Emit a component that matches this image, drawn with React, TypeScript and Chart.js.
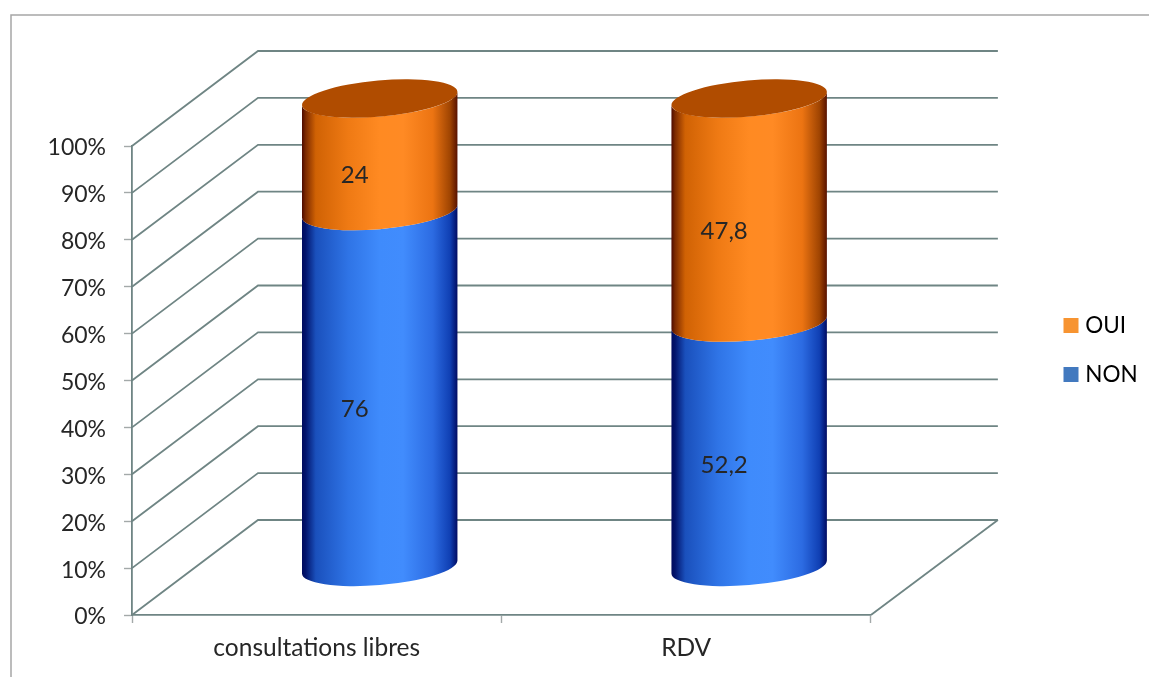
import React, { useEffect, useRef } from "react";
import { Chart, registerables } from "chart.js";

Chart.register(...registerables);

const categories = ["consultations libres", "RDV"];
const nonValues = [76, 52.2];
const ouiValues = [24, 47.8];
const valueLabels = [["76", "52,2"], ["24", "47,8"]];
const legendColors = { NON: "#4279bf", OUI: "#f79431" };

const TEXT = "#262626";
const FONT = "Lato";
const GRID = "#6f8584";
const TICK = "#a3a9a9";
const DX = 126;
const DY = 95;
const TILT = (-5 * Math.PI) / 180;
const RY = 18;

const blueStops: [number, string][] = [
  [0, "#000a5c"], [0.025, "#02146c"], [0.09, "#1a50bc"], [0.3, "#2f74e6"], [0.5, "#3f8bfc"],
  [0.65, "#418cfd"], [0.84, "#2c6be2"], [0.95, "#1040b4"], [1, "#000a60"],
];
const orangeStops: [number, string][] = [
  [0, "#4a0800"], [0.025, "#7c2a00"], [0.09, "#d06204"], [0.3, "#ef7a14"], [0.5, "#ff8a22"],
  [0.65, "#ff8a24"], [0.84, "#ec7412"], [0.95, "#a04502"], [1, "#561000"],
];

const depthPlugin = {
  id: "depth",
  beforeDatasetsDraw(chart: any) {
    const { ctx, chartArea: a, scales } = chart;
    ctx.save();
    ctx.strokeStyle = "#a6a6a6";
    ctx.lineWidth = 1.5;
    ctx.beginPath();
    ctx.moveTo(11, chart.height);
    ctx.lineTo(11, 15);
    ctx.lineTo(chart.width, 15);
    ctx.stroke();
    ctx.strokeStyle = GRID;
    ctx.lineWidth = 1.8;
    for (const t of scales.y.ticks) {
      const y = scales.y.getPixelForValue(t.value);
      ctx.beginPath();
      ctx.moveTo(a.left, y);
      ctx.lineTo(a.left + DX, y - DY);
      ctx.lineTo(a.right + DX + 1, y - DY);
      ctx.stroke();
    }
    ctx.beginPath();
    ctx.moveTo(a.right, a.bottom);
    ctx.lineTo(a.right + DX + 1, a.bottom - DY);
    ctx.stroke();
    ctx.restore();
  },
  beforeDatasetDraw() {
    return false;
  },
  afterDatasetsDraw(chart: any) {
    const { ctx } = chart;
    const stops = [blueStops, orangeStops];
    chart.data.datasets.forEach((_: any, di: number) => {
      chart.getDatasetMeta(di).data.forEach((bar: any) => {
        const rx = bar.width / 2;
        const start = Math.atan2(-RY * Math.sin(TILT), rx * Math.cos(TILT));
        const cx = bar.x + DX / 2;
        const top = bar.y - DY / 2;
        const bot = bar.base - DY / 2;
        const g = ctx.createLinearGradient(cx - rx, 0, cx + rx, 0);
        stops[di].forEach(([p, c]) => g.addColorStop(p, c));
        ctx.beginPath();
        ctx.ellipse(cx, top, rx, RY, TILT, start, start + Math.PI);
        ctx.ellipse(cx, bot, rx, RY, TILT, start + Math.PI, start, true);
        ctx.closePath();
        ctx.fillStyle = g;
        ctx.fill();
        if (di === chart.data.datasets.length - 1) {
          ctx.beginPath();
          ctx.ellipse(cx, top, rx, RY, TILT, 0, Math.PI * 2);
          ctx.fillStyle = "#b04c00";
          ctx.fill();
        }
      });
    });
    ctx.fillStyle = TEXT;
    ctx.font = `24px ${FONT}`;
    ctx.textAlign = "center";
    ctx.textBaseline = "middle";
    chart.data.datasets.forEach((_: any, di: number) => {
      chart.getDatasetMeta(di).data.forEach((bar: any, i: number) => {
        ctx.fillText(valueLabels[di][i], bar.x + 38, (bar.y + bar.base) / 2 - 27);
      });
    });
  },
};

const legendPlugin = {
  id: "legendPlace",
  afterLayout(chart: any) {
    const l = chart.legend;
    const h = l.bottom - l.top;
    l.left = 1041.5;
    l.right = l.left + l.width;
    l.top = 350 - h / 2;
    l.bottom = l.top + h;
  },
};

export default function App() {
  const ref = useRef<HTMLCanvasElement>(null);
  useEffect(() => {
    const chart = new Chart(ref.current!, {
      type: "bar",
      data: {
        labels: categories,
        datasets: [
          { label: "NON", data: nonValues, backgroundColor: legendColors.NON, barThickness: 156 },
          { label: "OUI", data: ouiValues, backgroundColor: legendColors.OUI, barThickness: 156 },
        ],
      },
      options: {
        responsive: false,
        animation: false,
        layout: { padding: { top: 146, left: 0, bottom: 0, right: 172 } },
        scales: {
          x: {
            stacked: true,
            afterFit: (s: any) => { s.height = 62; },
            border: { color: GRID, width: 1.8 },
            grid: { drawOnChartArea: false, tickLength: 8, tickColor: TICK, tickWidth: 1.4 },
            ticks: {
              color: TEXT,
              font: { family: FONT, size: 24.5 },
              padding: 10,
              maxRotation: 0,
              autoSkip: false,
            },
          },
          y: {
            stacked: true,
            min: 0,
            max: 100,
            afterFit: (s: any) => { s.width = 132; },
            border: { color: GRID, width: 1.8 },
            grid: { drawOnChartArea: false, tickLength: 8, tickColor: TICK, tickWidth: 1.4 },
            ticks: {
              stepSize: 10, color: TEXT, font: { family: FONT, size: 23 }, padding: 18,
              labelOffset: 2,
              callback: (v: any) => `${v}%`,
            },
          },
        },
        plugins: {
          tooltip: { enabled: false },
          legend: {
            position: "right",
            reverse: true,
            labels: {
              color: TEXT,
              font: { family: FONT, size: 22.5 },
              padding: 26.5,
              boxWidth: 6,
              boxHeight: 6,
              generateLabels: (c: any) =>
                c.data.datasets.map((d: any, i: number) => ({
                  text: d.label,
                  fillStyle: d.backgroundColor,
                  strokeStyle: d.backgroundColor,
                  lineWidth: 9,
                  datasetIndex: i,
                })),
            },
          },
        },
      },
      plugins: [depthPlugin, legendPlugin],
    } as any);
    return () => chart.destroy();
  }, []);
  return (
    <canvas
      ref={ref}
      width={1149}
      height={677}
      style={{ position: "absolute", left: 0, top: 0, display: "block" }}
    />
  );
}
